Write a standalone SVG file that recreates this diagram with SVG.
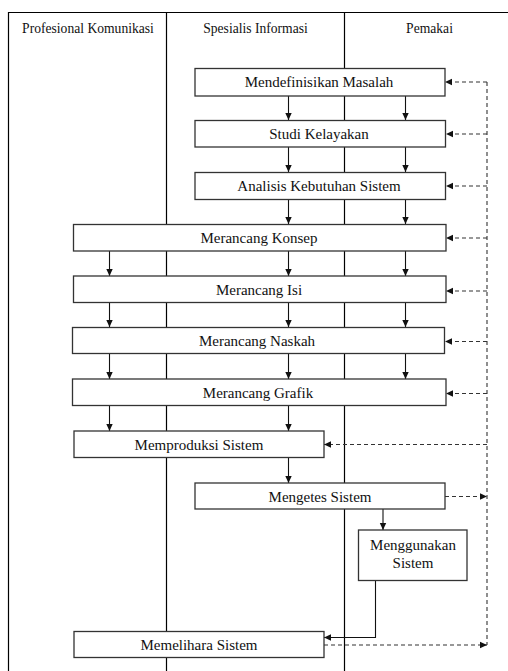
<svg xmlns="http://www.w3.org/2000/svg" width="508" height="671" viewBox="0 0 508 671" font-family="Liberation Serif, Times New Roman, serif" font-size="15">
<style>
.lane{stroke:#000;stroke-width:1.2;fill:none}
.box rect{fill:#fff;stroke:#333;stroke-width:1.3}
.t{fill:#111;text-anchor:middle}
.h{font-size:13.6px}
.flow{stroke:#111;stroke-width:1.1;fill:none}
.dash{stroke:#333;stroke-width:1.1;fill:none;stroke-dasharray:4 3}
</style>
<defs>
<marker id="ah" markerUnits="userSpaceOnUse" markerWidth="8" markerHeight="8" refX="7" refY="4" orient="auto">
<path d="M0,0.8 L7,4 L0,7.2 Z" fill="#111"/>
</marker>
</defs>
<rect width="508" height="671" fill="#fff"/>
<g id="lanes">
<path class="lane" d="M8.5,671 V12.5 H508"/>
<path class="lane" d="M166.5,12.5 V671"/>
<path class="lane" d="M344.5,12.5 V671"/>
<text class="t h" x="88" y="33">Profesional Komunikasi</text>
<text class="t h" x="255.5" y="33">Spesialis Informasi</text>
<text class="t h" x="429.5" y="33">Pemakai</text>
</g>
<g id="connectors">
<path class="flow" marker-end="url(#ah)" d="M288.5,96 V120"/>
<path class="flow" marker-end="url(#ah)" d="M405.5,96 V120"/>
<path class="flow" marker-end="url(#ah)" d="M288.5,147 V172"/>
<path class="flow" marker-end="url(#ah)" d="M405.5,147 V172"/>
<path class="flow" marker-end="url(#ah)" d="M288.5,199 V224"/>
<path class="flow" marker-end="url(#ah)" d="M405.5,199 V224"/>
<path class="flow" marker-end="url(#ah)" d="M109.5,251 V276"/>
<path class="flow" marker-end="url(#ah)" d="M288.5,251 V276"/>
<path class="flow" marker-end="url(#ah)" d="M405.5,251 V276"/>
<path class="flow" marker-end="url(#ah)" d="M109.5,303 V327"/>
<path class="flow" marker-end="url(#ah)" d="M288.5,303 V327"/>
<path class="flow" marker-end="url(#ah)" d="M405.5,303 V327"/>
<path class="flow" marker-end="url(#ah)" d="M109.5,353 V379"/>
<path class="flow" marker-end="url(#ah)" d="M288.5,353 V379"/>
<path class="flow" marker-end="url(#ah)" d="M405.5,353 V379"/>
<path class="flow" marker-end="url(#ah)" d="M109.5,405 V431"/>
<path class="flow" marker-end="url(#ah)" d="M288.5,405 V431"/>
<path class="flow" marker-end="url(#ah)" d="M288.5,457 V483"/>
<path class="flow" marker-end="url(#ah)" d="M383,509 V530"/>
<path class="flow" marker-end="url(#ah)" d="M375.5,581 V637.5 H324"/>
<path class="dash" d="M487,82 V645"/>
<path class="dash" marker-end="url(#ah)" d="M487,82 H445"/>
<path class="dash" marker-end="url(#ah)" d="M487,134 H446"/>
<path class="dash" marker-end="url(#ah)" d="M487,186 H446"/>
<path class="dash" marker-end="url(#ah)" d="M487,238 H446"/>
<path class="dash" marker-end="url(#ah)" d="M487,291 H446"/>
<path class="dash" marker-end="url(#ah)" d="M487,341.5 H445"/>
<path class="dash" marker-end="url(#ah)" d="M487,393.5 H446"/>
<path class="dash" marker-end="url(#ah)" d="M487,444.5 H324"/>
<path class="dash" marker-end="url(#ah)" d="M445,496.5 H487"/>
<path class="dash" marker-end="url(#ah)" d="M324,645 H487"/>
</g>
<g id="n1" class="box"><rect x="195" y="68.5" width="250" height="27.5"/><text class="t" x="319" y="87">Mendefinisikan Masalah</text></g>
<g id="n2" class="box"><rect x="195" y="120.5" width="250.5" height="26.5"/><text class="t" x="319" y="139">Studi Kelayakan</text></g>
<g id="n3" class="box"><rect x="195" y="172.5" width="250.5" height="27"/><text class="t" x="319" y="191">Analisis Kebutuhan Sistem</text></g>
<g id="n4" class="box"><rect x="73.5" y="224.5" width="372.5" height="26.5"/><text class="t" x="259" y="243">Merancang Konsep</text></g>
<g id="n5" class="box"><rect x="73.5" y="276" width="372.5" height="26.5"/><text class="t" x="259" y="294.5">Merancang Isi</text></g>
<g id="n6" class="box"><rect x="72.5" y="327.5" width="372" height="26"/><text class="t" x="257" y="346">Merancang Naskah</text></g>
<g id="n7" class="box"><rect x="72.5" y="379" width="373.5" height="26.5"/><text class="t" x="258" y="397.5">Merancang Grafik</text></g>
<g id="n8" class="box"><rect x="74" y="431" width="250" height="26.5"/><text class="t" x="199" y="449.5">Memproduksi Sistem</text></g>
<g id="n9" class="box"><rect x="195" y="483" width="250" height="26"/><text class="t" x="320" y="501.5">Mengetes Sistem</text></g>
<g id="n10" class="box"><rect x="358.5" y="530" width="108.5" height="50.5"/><text class="t" x="413" y="550">Menggunakan</text><text class="t" x="413" y="568">Sistem</text></g>
<g id="n11" class="box"><rect x="74" y="631.5" width="250" height="26"/><text class="t" x="199" y="650">Memelihara Sistem</text></g>
</svg>
